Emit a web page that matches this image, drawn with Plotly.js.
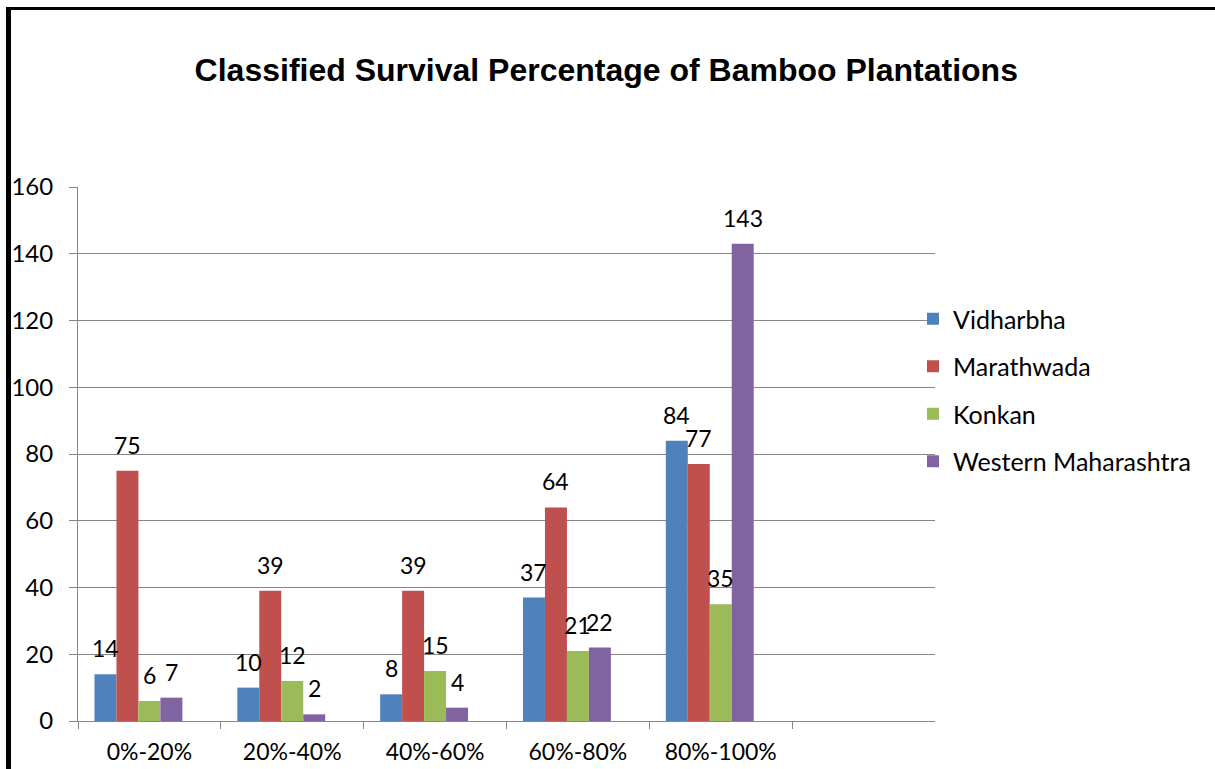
<!DOCTYPE html>
<html>
<head>
<meta charset="utf-8">
<script src="https://cdn.plot.ly/plotly-3.0.1.min.js"></script>
<style>
  html, body { margin: 0; padding: 0; background: #ffffff; overflow: hidden; }
  #page { position: absolute; left: 0; top: 0; width: 1215px; height: 769px; overflow: hidden; }
  #chart { position: absolute; left: 0; top: 0; width: 1215px; height: 769px; }
  #frame {
    position: absolute; left: 6px; top: 7px; width: 1300px; height: 850px;
    border-left: 5px solid #000000; border-top: 3px solid #000000;
    pointer-events: none;
  }
</style>
</head>
<body>
<div id="page">
  <div id="chart"></div>
  <div id="frame"></div>
</div>
<script>
// Survival classes (x axis)
const categories = ['0%-20%', '20%-40%', '40%-60%', '60%-80%', '80%-100%'];

// Number of plantations per survival class, by region
const vidharbha = [14, 10, 8, 37, 84];
const marathwada = [75, 39, 39, 64, 77];
const konkan = [6, 12, 15, 21, 35];
const westernMaharashtra = [7, 2, 4, 22, 143];

const regionNames = ['Vidharbha', 'Marathwada', 'Konkan', 'Western Maharashtra'];
const regionValues = [vidharbha, marathwada, konkan, westernMaharashtra];
const regionColors = ['#4F81BD', '#C0504D', '#9BBB59', '#8064A2'];

const yTicks = [0, 20, 40, 60, 80, 100, 120, 140, 160];

const FONT = 'Lato, "Open Sans", "Noto Sans", sans-serif';
const BAR_GAP = 0.2308;     // gap between groups, as a fraction of a category slot
const SLOTS = 5;            // four regions plus one empty series slot

const traces = regionNames.map((name, j) => ({
  type: 'bar',
  name: name,
  x: categories,
  y: regionValues[j],
  legendgroup: name,
  marker: { color: regionColors[j], line: { width: 0 } },
  hoverinfo: 'x+y+name'
}));

// empty fifth series: reserves a slot so each group sits left of its category centre
traces.push({
  type: 'bar',
  name: 'spare',
  x: categories,
  y: categories.map(() => null),
  showlegend: false,
  hoverinfo: 'skip'
});

// value labels above each bar, placed at the bar's centre within its group
const groupWidth = 1 - BAR_GAP;
const barWidth = groupWidth / SLOTS;
const annotations = [];
regionValues.forEach((vals, j) => {
  vals.forEach((v, i) => {
    annotations.push({
      x: i - groupWidth / 2 + barWidth * (j + 0.5),
      y: v,
      xref: 'x', yref: 'y',
      text: String(v),
      showarrow: false,
      xanchor: 'center', yanchor: 'middle',
      yshift: 26,
      font: { family: FONT, size: 23, color: '#000000' }
    });
  });
});

const layout = {
  width: 1215,
  height: 769,
  paper_bgcolor: '#ffffff',
  plot_bgcolor: '#ffffff',
  margin: { l: 78, r: 280, t: 187, b: 48, pad: 0 },
  barmode: 'group',
  bargap: BAR_GAP,
  bargroupgap: 0,
  font: { family: FONT, size: 23, color: '#000000' },
  title: {
    text: '<b>Classified Survival Percentage of Bamboo Plantations</b>',
    font: { family: '"Liberation Sans", Arial, sans-serif', size: 32, color: '#000000' },
    x: 0.499, xref: 'container', xanchor: 'center',
    y: 1 - 70 / 769, yref: 'container', yanchor: 'middle'
  },
  xaxis: {
    type: 'category',
    range: [-0.5, 5.5],
    tickson: 'boundaries',
    ticks: 'outside',
    ticklen: 7,
    tickwidth: 1,
    tickcolor: '#868686',
    showline: true,
    linecolor: '#868686',
    linewidth: 1,
    showgrid: false,
    zeroline: false,
    ticklabelstandoff: 10,
    tickfont: { family: FONT, size: 23, color: '#000000' },
    fixedrange: true
  },
  yaxis: {
    range: [0, 160],
    tickmode: 'array',
    tickvals: yTicks,
    ticktext: yTicks.map(String),
    ticks: 'outside',
    ticklen: 8,
    tickwidth: 1,
    tickcolor: '#868686',
    showline: true,
    linecolor: '#868686',
    linewidth: 1,
    showgrid: true,
    gridcolor: '#868686',
    gridwidth: 1,
    zeroline: false,
    ticklabelstandoff: 11,
    tickfont: { family: FONT, size: 24, color: '#000000' },
    fixedrange: true
  },
  legend: {
    x: (913 - 78) / 857,
    xanchor: 'left',
    y: (721 - 296) / 534,
    yanchor: 'top',
    traceorder: 'grouped',
    tracegroupgap: 12,
    bgcolor: 'rgba(0,0,0,0)',
    borderwidth: 0,
    font: { family: FONT, size: 25, color: '#000000' }
  },
  annotations: annotations,
  showlegend: true
};

Plotly.newPlot('chart', traces, layout, { displayModeBar: false, staticPlot: true });
</script>
</body>
</html>
